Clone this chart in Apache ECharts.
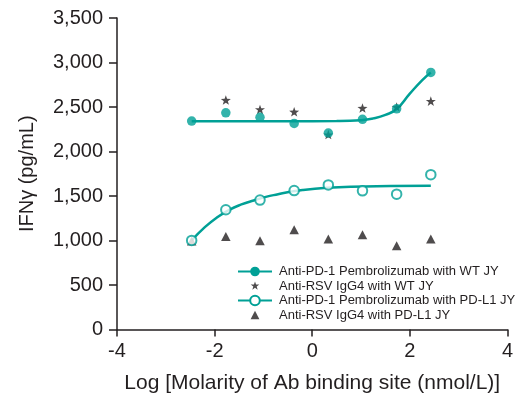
<!doctype html>
<html lang="en">
<head>
    <meta charset="UTF-8">
    <title>IFNγ dose response</title>
    <script src="https://cdn.jsdelivr.net/npm/echarts@6/dist/echarts.min.js"></script>
    <style>
        html, body { margin: 0; padding: 0; background: #fff; }
        #chart { width: 516px; height: 402px; }
    </style>
</head>
<body>
<div id="chart"></div>
<script>
    // log [molarity of Ab binding site (nmol/L)]
    var doseX = [-2.47, -1.77, -1.07, -0.37, 0.33, 1.03, 1.73, 2.43];

    // IFNγ (pg/mL) ('-' = hidden under another mark)
    var wtPembro = [2342, 2435, 2384, 2316, 2208, 2361, 2480, 2888];
    var wtRsv = ['-', 2578, 2473, 2446, 2190, 2488, 2500, 2566];
    var pdl1Pembro = [1001, 1345, 1454, 1561, 1625, 1558, 1521, 1740];
    var pdl1Rsv = [995, 1046, 997, 1121, 1016, 1065, 941, 1016];

    // fitted curves
    var wtFitX = [-2.47, -1.5, -0.5, 0.5, 1.0, 1.25, 1.5, 1.73, 2.0, 2.25, 2.43];
    var wtFitY = [2340, 2340, 2340, 2342, 2352, 2372, 2412, 2477, 2650, 2800, 2888];
    var pdl1FitX = [-2.47, -2.2, -1.95, -1.7, -1.45, -1.2, -0.95, -0.7, -0.45, -0.2, 0.3, 0.8, 1.6, 2.43];
    var pdl1FitY = [1001, 1150, 1260, 1345, 1405, 1450, 1490, 1520, 1548, 1568, 1592, 1605, 1612, 1616];

    var names = [
        'Anti-PD-1 Pembrolizumab with WT JY',
        'Anti-RSV IgG4 with WT JY',
        'Anti-PD-1 Pembrolizumab with PD-L1 JY',
        'Anti-RSV IgG4 with PD-L1 JY'
    ];

    var teal = '#00a096';
    var ink = '#231f20';
    var font = "'Liberation Sans', Arial, sans-serif";
    var star = 'path://M0,-10L2.35,-3.24L9.51,-3.09L3.8,1.24L5.88,8.09L0,4L-5.88,8.09L-3.8,1.24L-9.51,-3.09L-2.35,-3.24Z';
    // legend icons: the leading moves pad the box so the mark stays small
    var starIcon = 'path://M-17,-6M17,6M0,-4.5L1.06,-1.45L4.28,-1.39L1.71,0.56L2.65,3.64L0,1.8L-2.65,3.64L-1.71,0.56L-4.28,-1.39L-1.06,-1.45Z';
    var triIcon = 'path://M-17,-6M17,6M0,-4.2L4.4,4.2L-4.4,4.2Z';

    function pairs(xs, ys) {
        return xs.map(function (x, i) { return [x, ys[i]]; });
    }

    var chart = echarts.init(document.getElementById('chart'), null, { renderer: 'canvas' });

    chart.setOption({
        animation: false,
        backgroundColor: '#fff',
        grid: { left: 117, right: 8, top: 18, bottom: 72.5 },
        legend: {
            data: [
                { name: names[0] },
                { name: names[1], icon: starIcon },
                { name: names[2] },
                { name: names[3], icon: triIcon }
            ],
            left: 237,
            top: 265,
            orient: 'vertical',
            itemWidth: 34,
            itemHeight: 12,
            itemGap: 1.5,
            padding: 0,
            selectedMode: false,
            textStyle: { fontFamily: font, fontSize: 13, color: ink, padding: [0, 0, 0, 2] }
        },
        xAxis: {
            type: 'value',
            min: -4,
            max: 4,
            interval: 2,
            name: 'Log [Molarity of Ab binding site (nmol/L)]',
            nameLocation: 'middle',
            nameGap: 43,
            nameTextStyle: { fontFamily: font, fontSize: 21, color: ink },
            axisLine: { onZero: false, lineStyle: { color: ink, width: 1.5 } },
            axisTick: { length: 7, lineStyle: { color: ink, width: 1.5 } },
            axisLabel: { fontFamily: font, fontSize: 20, color: ink, margin: 12 },
            splitLine: { show: false }
        },
        yAxis: {
            type: 'value',
            min: 0,
            max: 3500,
            interval: 500,
            name: 'IFNγ (pg/mL)',
            nameLocation: 'middle',
            nameGap: 80,
            nameTextStyle: { fontFamily: font, fontSize: 20, color: ink },
            axisLine: { show: true, onZero: false, lineStyle: { color: ink, width: 1.5 } },
            axisTick: { show: true, length: 8, lineStyle: { color: ink, width: 1.5 } },
            axisLabel: {
                fontFamily: font, fontSize: 20, color: ink, margin: 14,
                formatter: function (v) { return String(v).replace(/\B(?=(\d{3})+(?!\d))/g, ','); }
            },
            splitLine: { show: false }
        },
        series: [
            {
                name: names[0],
                type: 'line',
                data: pairs(wtFitX, wtFitY),
                smooth: 0.5,
                symbol: 'circle',
                showSymbol: false,
                itemStyle: { color: teal },
                lineStyle: { color: teal, width: 2.5 },
                z: 2
            },
            {
                name: names[2],
                type: 'line',
                data: pairs(pdl1FitX, pdl1FitY),
                smooth: 0.5,
                symbol: 'emptyCircle',
                showSymbol: false,
                itemStyle: { color: teal },
                lineStyle: { color: teal, width: 2.5 },
                z: 2
            },
            {
                name: names[1],
                type: 'scatter',
                data: pairs(doseX, wtRsv),
                symbol: star,
                symbolSize: 10,
                symbolKeepAspect: true,
                itemStyle: { color: ink },
                z: 3
            },
            {
                name: names[3],
                type: 'scatter',
                data: pairs(doseX, pdl1Rsv),
                symbol: 'triangle',
                symbolSize: [9.5, 9],
                itemStyle: { color: ink },
                z: 3
            },
            {
                name: names[0],
                type: 'scatter',
                data: pairs(doseX, wtPembro),
                symbol: 'circle',
                symbolSize: 9.5,
                itemStyle: { color: teal },
                z: 4
            },
            {
                name: names[2],
                type: 'scatter',
                data: pairs(doseX, pdl1Pembro),
                symbol: 'circle',
                symbolSize: 9.5,
                itemStyle: { color: '#fff', borderColor: teal, borderWidth: 2 },
                z: 4
            }
        ]
    });
</script>
</body>
</html>
